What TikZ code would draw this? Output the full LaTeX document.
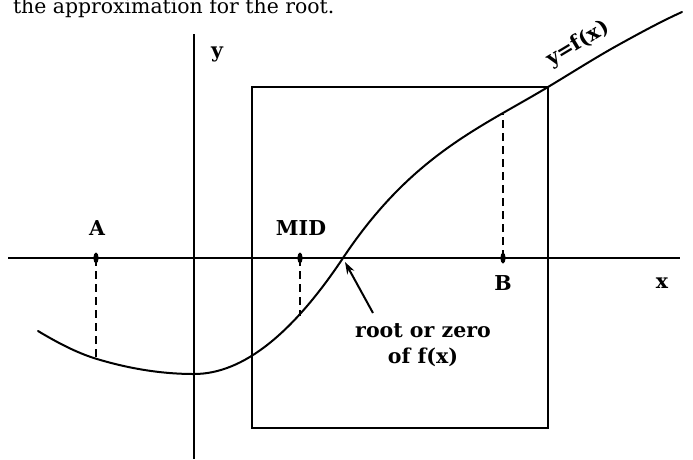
\documentclass[tikz,border=0pt]{standalone}
\usepackage{fontspec}
\setmainfont{DejaVu Serif}
\usetikzlibrary{arrows.meta}

\tikzset{every picture/.style={line width=2pt}}
\tikzset{lbl/.style={inner sep=0pt,font=\bfseries\fontsize{20.5}{22}\selectfont}}
\tikzset{guide/.style={dash pattern=on 8pt off 5pt,line width=2pt}}
\tikzset{tick/.style={fill=black,draw=none}}

\begin{document}
\begin{tikzpicture}[x=1pt,y=1pt,yscale=-1,xscale=1]
\useasboundingbox (0,0) rectangle (693,459);
\clip (0,0) rectangle (693,459);

% Text Node
\node (caption) [anchor=base west,inner sep=0pt,font=\fontsize{20.4}{22}\selectfont] at (12,13) {the approximation for the root.};

%Shape: Axis 2D
\coordinate (xl) at (8,258);
\coordinate (xr) at (680,258);
\coordinate (yt) at (194,34);
\coordinate (yb) at (194,459);
\draw (xl) -- (xr) (yt) -- (yb);

%Shape: Rectangle
\draw (252,87) rectangle (548,428);

%Shape: Curve
\draw [line cap=round] (38,331) .. controls (57.67,342.8) and (77.33,353.1) .. (97,359)
  .. controls (129.33,368.7) and (161.67,374) .. (194,374)
  .. controls (243.67,374) and (293.33,332.5) .. (343,258)
  .. controls (411.3,155.5) and (479.7,128) .. (548,87)
  .. controls (572,72.6) and (596,57.2) .. (620,44)
  .. controls (640.67,32.6) and (661.33,21.3) .. (682,12);

% points on the x axis
\coordinate (a) at (96,258);
\coordinate (mid) at (300,258);
\coordinate (b) at (503,258);
\coordinate (root) at (345,262);
\coordinate (fa) at (96,359);
\coordinate (fmid) at (300,316);
\coordinate (fb) at (503,114);
\foreach \p in {a,mid,b}
  \fill [tick] (\p) ellipse [x radius=2.6pt,y radius=5.5pt];

%Shape: dashed guides
\draw [guide] (a) -- (fa);
\draw [guide] (mid) -- (fmid);
\draw [guide] (b) -- (fb);

% Text Node
\node (ylab) [lbl] at (217,54) {y};
% Text Node
\node (xlab) [lbl] at (662,283) {x};
% Text Node
\node (alab) [lbl] at (97,228) {A};
% Text Node
\node (midlab) [lbl] at (301,228) {MID};
% Text Node
\node (blab) [lbl] at (503,283) {B};
% Text Node
\node (rootlab) [lbl,align=center] at (423,345) {root or zero\\[4pt]of f(x)};
% Text Node
\node (flab) [lbl,rotate=31] at (578,44) {y=f(x)};

%Shape: Arrow
\draw [-{Stealth[length=12pt,width=8pt]}] (373,313) coordinate (tail) -- (root);

\end{tikzpicture}
\end{document}
